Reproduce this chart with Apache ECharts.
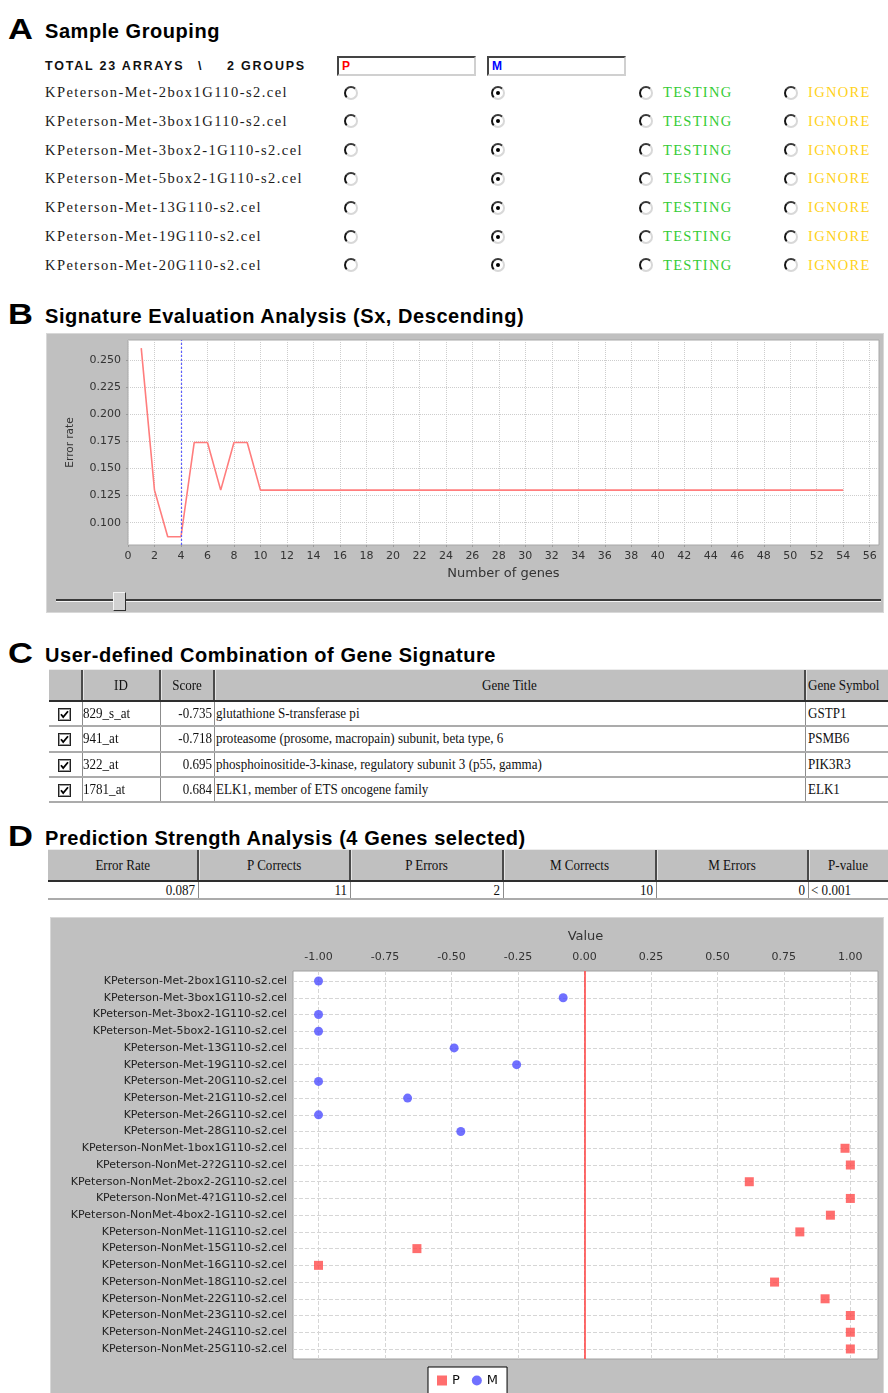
<!DOCTYPE html>
<html>
<head>
<meta charset="utf-8">
<title>Gene signature analysis</title>
<script src="https://cdn.jsdelivr.net/npm/echarts@6.0.0/dist/echarts.min.js"></script>
<style>
  html, body { margin: 0; padding: 0; width: 888px; height: 1393px; overflow: hidden; background: #fff; }
  #page { position: relative; width: 888px; height: 1393px; }
  .abs { position: absolute; white-space: pre; }
  .letter { font-family: 'Liberation Sans', Arial, sans-serif; font-weight: bold; font-size: 30px; line-height: 30px;
            transform: scaleX(1.15); transform-origin: left center; color: #000; }
  .title { font-family: 'Liberation Sans', Arial, sans-serif; font-weight: bold; font-size: 20px; line-height: 20px;
           letter-spacing: 0.55px; color: #000; }
  .hdr { font-family: 'Liberation Sans', Arial, sans-serif; font-weight: bold; font-size: 12.5px; line-height: 14px;
         letter-spacing: 1.8px; color: #111; }
  .serif { font-family: 'Liberation Serif', 'Times New Roman', serif; font-size: 14.5px; line-height: 16px;
           letter-spacing: 1.45px; color: #1a1a1a; }
  .radio { width: 10px; height: 10px; border-radius: 50%; border: 2px solid;
           border-color: #3a3a3a #d8d8d8 #d8d8d8 #141414; background: #fff; }
  .radio.on::after { content: ''; position: absolute; left: 3px; top: 3px; width: 4px; height: 4px;
                     border-radius: 50%; background: #000; }
  .inbox { height: 16px; border: 2px solid; border-color: #444 #d0d0d0 #d0d0d0 #444; background: #fff;
           font-family: 'Liberation Sans', Arial, sans-serif; font-weight: bold; font-size: 12px; line-height: 16px;
           padding-left: 3px; box-sizing: content-box; }
  .cell { font-family: 'Liberation Serif', 'Times New Roman', serif; font-size: 15px; color: #111;
          transform: scaleX(0.87); transform-origin: left center; }
  .cell.r { transform-origin: right center; }
  .cell.c { transform-origin: center center; }
  .panel { background: #c0c0c0; border: 1px solid #d8d8d8; box-sizing: border-box; }
</style>
</head>
<body>
<div id="page">
  <div id="chartB" class="abs panel" style="left:46px; top:333px; width:838px; height:280px;"></div>
  <div id="chartD" class="abs panel" style="left:50px; top:917px; width:834px; height:490px;"></div>
</div>
<script>
// ---------------- Panel A: sample grouping ----------------
const groupSummary = ['TOTAL 23 ARRAYS', '\\', '2 GROUPS'];
const groupNames = ['P', 'M'];
const arrayFiles = [
  'KPeterson-Met-2box1G110-s2.cel',
  'KPeterson-Met-3box1G110-s2.cel',
  'KPeterson-Met-3box2-1G110-s2.cel',
  'KPeterson-Met-5box2-1G110-s2.cel',
  'KPeterson-Met-13G110-s2.cel',
  'KPeterson-Met-19G110-s2.cel',
  'KPeterson-Met-20G110-s2.cel'
];
const roleLabels = ['TESTING', 'IGNORE'];

// ---------------- Panel B: signature evaluation ----------------
const geneCounts = [1, 2, 3, 4, 5, 6, 7, 8, 9, 10, 11, 12, 13, 14, 15, 16, 17, 18, 19, 20,
  21, 22, 23, 24, 25, 26, 27, 28, 29, 30, 31, 32, 33, 34, 35, 36, 37, 38, 39, 40,
  41, 42, 43, 44, 45, 46, 47, 48, 49, 50, 51, 52, 53, 54];
const errorRates = [0.261, 0.130, 0.087, 0.087, 0.174, 0.174, 0.130, 0.174, 0.174,
  0.130, 0.130, 0.130, 0.130, 0.130, 0.130, 0.130, 0.130, 0.130, 0.130,
  0.130, 0.130, 0.130, 0.130, 0.130, 0.130, 0.130, 0.130, 0.130, 0.130,
  0.130, 0.130, 0.130, 0.130, 0.130, 0.130, 0.130, 0.130, 0.130, 0.130,
  0.130, 0.130, 0.130, 0.130, 0.130, 0.130, 0.130, 0.130, 0.130, 0.130,
  0.130, 0.130, 0.130, 0.130, 0.130];
const selectedGeneCount = 4;
const geneTicks = [0, 2, 4, 6, 8, 10, 12, 14, 16, 18, 20, 22, 24, 26, 28, 30, 32, 34, 36, 38,
  40, 42, 44, 46, 48, 50, 52, 54, 56];
const errorTicks = [0.100, 0.125, 0.150, 0.175, 0.200, 0.225, 0.250];

// ---------------- Panel C: gene signature table ----------------
const signatureHeaders = ['ID', 'Score', 'Gene Title', 'Gene Symbol'];
const probeIds = ['829_s_at', '941_at', '322_at', '1781_at'];
const geneScores = ['-0.735', '-0.718', '0.695', '0.684'];
const geneTitles = [
  'glutathione S-transferase pi',
  'proteasome (prosome, macropain) subunit, beta type, 6',
  'phosphoinositide-3-kinase, regulatory subunit 3 (p55, gamma)',
  'ELK1, member of ETS oncogene family'
];
const geneSymbols = ['GSTP1', 'PSMB6', 'PIK3R3', 'ELK1'];

// ---------------- Panel D: prediction strength ----------------
const summaryHeaders = ['Error Rate', 'P Corrects', 'P Errors', 'M Corrects', 'M Errors', 'P-value'];
const summaryValues = ['0.087', '11', '2', '10', '0', '< 0.001'];
const sampleNames = [
  'KPeterson-Met-2box1G110-s2.cel',
  'KPeterson-Met-3box1G110-s2.cel',
  'KPeterson-Met-3box2-1G110-s2.cel',
  'KPeterson-Met-5box2-1G110-s2.cel',
  'KPeterson-Met-13G110-s2.cel',
  'KPeterson-Met-19G110-s2.cel',
  'KPeterson-Met-20G110-s2.cel',
  'KPeterson-Met-21G110-s2.cel',
  'KPeterson-Met-26G110-s2.cel',
  'KPeterson-Met-28G110-s2.cel',
  'KPeterson-NonMet-1box1G110-s2.cel',
  'KPeterson-NonMet-2?2G110-s2.cel',
  'KPeterson-NonMet-2box2-2G110-s2.cel',
  'KPeterson-NonMet-4?1G110-s2.cel',
  'KPeterson-NonMet-4box2-1G110-s2.cel',
  'KPeterson-NonMet-11G110-s2.cel',
  'KPeterson-NonMet-15G110-s2.cel',
  'KPeterson-NonMet-16G110-s2.cel',
  'KPeterson-NonMet-18G110-s2.cel',
  'KPeterson-NonMet-22G110-s2.cel',
  'KPeterson-NonMet-23G110-s2.cel',
  'KPeterson-NonMet-24G110-s2.cel',
  'KPeterson-NonMet-25G110-s2.cel'
];
const sampleGroups = ['M', 'M', 'M', 'M', 'M', 'M', 'M', 'M', 'M', 'M',
  'P', 'P', 'P', 'P', 'P', 'P', 'P', 'P', 'P', 'P', 'P', 'P', 'P'];
const predictionValues = [-1.00, -0.08, -1.00, -1.00, -0.49, -0.255, -1.00, -0.665, -1.00, -0.465,
  0.98, 1.00, 0.62, 1.00, 0.925, 0.81, -0.63, -1.00, 0.715, 0.905, 1.00, 1.00, 1.00];
const valueTicks = [-1.00, -0.75, -0.50, -0.25, 0.00, 0.25, 0.50, 0.75, 1.00];
const decisionBoundary = 0;

// ---------------- page layout helpers ----------------
const page = document.getElementById('page');
function add(cls, style, text) {
  const d = document.createElement('div');
  d.className = 'abs ' + (cls || '');
  d.setAttribute('style', style);
  if (text != null) d.textContent = text;
  page.appendChild(d);
  return d;
}

// panel letters and headings
[['A', 14, 'Sample Grouping'],
 ['B', 299, 'Signature Evaluation Analysis (Sx, Descending)'],
 ['C', 638, 'User-defined Combination of Gene Signature'],
 ['D', 821, 'Prediction Strength Analysis (4 Genes selected)']].forEach(([L, top, txt]) => {
  add('letter', `left:8px; top:${top}px;`, L);
  add('title', `left:45px; top:${top + 6.5}px;`, txt);
});

// Panel A
add('hdr', 'left:45px; top:59px;', groupSummary[0]);
add('hdr', 'left:198px; top:59px;', groupSummary[1]);
add('hdr', 'left:227px; top:59px;', groupSummary[2]);
add('inbox', 'left:337px; top:56px; width:132px; color:#ff0000;', groupNames[0]);
add('inbox', 'left:487px; top:56px; width:132px; color:#0000ff;', groupNames[1]);
arrayFiles.forEach((name, i) => {
  const cy = 92.5 + i * 28.8;
  add('serif', `left:45px; top:${cy - 8.5}px;`, name);
  add('radio', `left:344px; top:${cy - 7}px;`);
  add('radio on', `left:491px; top:${cy - 7}px;`);
  add('radio', `left:639px; top:${cy - 7}px;`);
  add('serif', `left:663px; top:${cy - 8.5}px; color:#35cc35; letter-spacing:1.3px;`, roleLabels[0]);
  add('radio', `left:784px; top:${cy - 7}px;`);
  add('serif', `left:808px; top:${cy - 8.5}px; color:#ffd21a; letter-spacing:1.3px;`, roleLabels[1]);
});

// Panel B slider under the chart
add('', 'left:56px; top:599px; width:825px; height:2px; background:#3a3a3a;');
add('', 'left:56px; top:601px; width:825px; height:1px; background:#f4f4f4;');
add('', 'left:113px; top:592px; width:11px; height:17px; background:#d2d2d2; border:1px solid; border-color:#f4f4f4 #303030 #303030 #f4f4f4;');

// generic grid-style table
function drawTable(left, right, top, headH, rowH, seps, headers, headerPos, rows) {
  add('', `left:${left}px; top:${top}px; width:${right - left}px; height:${headH}px; background:#c0c0c0; border-top:1px solid #ececec; box-sizing:border-box;`);
  seps.forEach(x => {
    add('', `left:${x - 1}px; top:${top + 1}px; width:2px; height:${headH - 1}px; background:#4a4a4a;`);
    add('', `left:${x + 1}px; top:${top + 1}px; width:1px; height:${headH - 1}px; background:#e4e4e4;`);
  });
  headers.forEach((h, i) => {
    const [x0, x1, align] = headerPos[i];
    add('cell ' + (align === 'center' ? 'c' : ''),
      `left:${x0}px; top:${top}px; width:${x1 - x0}px; height:${headH}px; line-height:${headH}px; text-align:${align};`, h);
  });
  add('', `left:${left}px; top:${top + headH - 1}px; width:${right - left}px; height:2px; background:#2e2e2e;`);
  rows.forEach((cells, r) => {
    const rt = top + headH + 1 + r * rowH;
    add('', `left:${left}px; top:${rt + rowH - 2}px; width:${right - left}px; height:2px; background:#ababab;`);
    seps.forEach(x => add('', `left:${x}px; top:${rt}px; width:1px; height:${rowH - 2}px; background:#8c8c8c;`));
    cells.forEach(c => {
      if (c.check) {
        const d = add('', `left:${c.x}px; top:${rt + (rowH - 2) / 2 - 6.5}px; width:13px; height:13px;`);
        d.innerHTML = '<svg width="13" height="13"><rect x="0.5" y="0.5" width="12" height="12" fill="#fff" stroke="#222"/>' +
          '<rect x="1.5" y="1.5" width="10" height="10" fill="none" stroke="#9a9a9a"/>' +
          '<polyline points="3,6.2 5.2,9 10,3.2" fill="none" stroke="#000" stroke-width="1.8"/></svg>';
      } else if (c.align === 'right') {
        add('cell r', `left:${c.x - 300}px; width:300px; text-align:right; top:${rt}px; height:${rowH - 2}px; line-height:${rowH - 2}px;`, c.text);
      } else {
        add('cell', `left:${c.x}px; top:${rt}px; height:${rowH - 2}px; line-height:${rowH - 2}px;`, c.text);
      }
    });
  });
}

// Panel C table
drawTable(49, 888, 669, 32, 25.3, [81.5, 159.5, 214, 805],
  signatureHeaders,
  [[82, 160, 'center'], [160, 214, 'center'], [214, 805, 'center'], [808, 888, 'left']],
  probeIds.map((id, i) => [
    { check: true, x: 57.5 },
    { x: 83, text: id },
    { x: 212, text: geneScores[i], align: 'right' },
    { x: 215.5, text: geneTitles[i] },
    { x: 807.5, text: geneSymbols[i] }
  ]));

// Panel D summary table
const summarySeps = [197.5, 350, 503, 656, 808];
const summaryCols = [48, 197.5, 350, 503, 656, 808, 888];
drawTable(48, 888, 849, 32, 18, summarySeps,
  summaryHeaders,
  summaryHeaders.map((_, i) => [summaryCols[i], summaryCols[i + 1], 'center']),
  [summaryValues.map((v, i) => i < 5
    ? { x: summaryCols[i + 1] - 3, text: v, align: 'right' }
    : { x: summaryCols[i] + 3, text: v })]);

// ---------------- Chart B: error rate vs number of genes ----------------
const axisFont = 'DejaVu Sans';
const chartB = echarts.init(document.getElementById('chartB'), null, { renderer: 'canvas' });
chartB.setOption({
  animation: false,
  textStyle: { fontFamily: axisFont },
  grid: {
    left: 81, top: 6, width: 751, height: 205, show: true, backgroundColor: '#ffffff',
    borderColor: '#a8a8a8', borderWidth: 1, containLabel: false, outerBoundsMode: 'none'
  },
  xAxis: {
    type: 'value', min: 0, max: 56.7,
    name: 'Number of genes', nameLocation: 'middle', nameGap: 22,
    nameTextStyle: { fontFamily: axisFont, fontSize: 13, color: '#333' },
    axisLine: { show: false },
    axisTick: { show: true, length: 2, customValues: geneTicks, lineStyle: { color: '#999' } },
    axisLabel: { customValues: geneTicks, fontFamily: axisFont, fontSize: 11, color: '#333', margin: 6 },
    splitLine: { show: true, lineStyle: { type: 'dotted', color: '#cdcdcd', width: 1 } }
  },
  yAxis: {
    type: 'value', min: 0.0794, max: 0.2685,
    name: 'Error rate', nameLocation: 'middle', nameGap: 52, nameRotate: 90,
    nameTextStyle: { fontFamily: axisFont, fontSize: 10.5, color: '#333' },
    axisLine: { show: false },
    axisTick: { show: true, length: 2, customValues: errorTicks, lineStyle: { color: '#999' } },
    axisLabel: { customValues: errorTicks, formatter: v => v.toFixed(3), fontFamily: axisFont,
                 fontSize: 11, color: '#333', margin: 7 },
    splitLine: { show: true, lineStyle: { type: 'dotted', color: '#cdcdcd', width: 1 } }
  },
  series: [{
    type: 'line',
    data: geneCounts.map((n, i) => [n, errorRates[i]]),
    showSymbol: false,
    lineStyle: { color: '#ff7d7d', width: 1.6 },
    z: 3,
    markLine: {
      silent: true, symbol: ['none', 'none'], label: { show: false },
      lineStyle: { type: [2, 2], color: '#5c5cff', width: 1.2, opacity: 1 },
      emphasis: { disabled: true },
      data: [{ xAxis: selectedGeneCount, lineStyle: { color: '#5c5cff', type: [2, 2], width: 1.2 } }]
    }
  }]
});

// ---------------- Chart D: prediction strength per sample ----------------
const rowIndex = sampleNames.map((_, i) => i);
function groupPoints(g) {
  return sampleNames.map((_, i) => i).filter(i => sampleGroups[i] === g).map(i => [predictionValues[i], i]);
}
const chartD = echarts.init(document.getElementById('chartD'), null, { renderer: 'canvas' });
chartD.setOption({
  animation: false,
  textStyle: { fontFamily: axisFont },
  grid: {
    left: 242, top: 53, width: 585, height: 388, show: true, backgroundColor: '#ffffff',
    borderColor: '#a0a0a0', borderWidth: 1, containLabel: false, outerBoundsMode: 'none'
  },
  legend: {
    data: ['P', 'M'], left: 377, top: 449, orient: 'horizontal',
    backgroundColor: '#ffffff', borderColor: '#000000', borderWidth: 1, borderRadius: 0,
    padding: [7, 9, 10, 9], itemGap: 12, itemWidth: 10, itemHeight: 10,
    textStyle: { fontFamily: axisFont, fontSize: 13, color: '#111' }
  },
  xAxis: {
    type: 'value', position: 'top', min: -1.096, max: 1.104,
    name: 'Value', nameLocation: 'middle', nameGap: 28,
    nameTextStyle: { fontFamily: axisFont, fontSize: 13, color: '#333' },
    axisLine: { show: false },
    axisTick: { show: false, customValues: valueTicks },
    axisLabel: { customValues: valueTicks, formatter: v => v.toFixed(2), fontFamily: axisFont,
                 fontSize: 11, color: '#333', margin: 8 },
    splitLine: { show: true, lineStyle: { type: 'dashed', color: '#d6d6d6', width: 1 } }
  },
  yAxis: {
    type: 'value', inverse: true, min: -0.6, max: 22.6,
    axisLine: { show: false },
    axisTick: { show: false, customValues: rowIndex },
    axisLabel: { customValues: rowIndex, formatter: v => sampleNames[Math.round(v)], fontFamily: axisFont,
                 fontSize: 11, color: '#222', margin: 6 },
    splitLine: { show: true, lineStyle: { type: 'dashed', color: '#d6d6d6', width: 1 } }
  },
  series: [
    {
      name: 'P', type: 'scatter', symbol: 'rect', symbolSize: 9,
      itemStyle: { color: '#ff4a4a' },
      data: groupPoints('P'),
      markLine: {
        silent: true, symbol: ['none', 'none'], label: { show: false },
        lineStyle: { type: 'solid', color: '#ff3c3c', width: 1.5 },
        data: [{ xAxis: decisionBoundary }]
      },
      z: 3
    },
    {
      name: 'M', type: 'scatter', symbol: 'circle', symbolSize: 9,
      itemStyle: { color: '#4c4cff' },
      data: groupPoints('M'),
      z: 3
    }
  ]
});
</script>
</body>
</html>
